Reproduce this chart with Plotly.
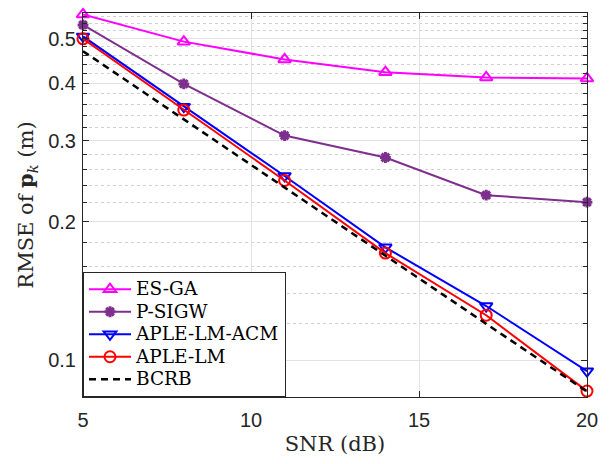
import plotly.graph_objects as go
import numpy as np

snr = [5, 8, 11, 14, 17, 20]
es_ga = [0.565, 0.493, 0.451, 0.423, 0.412, 0.410]
p_sigw = [0.536, 0.399, 0.308, 0.276, 0.2285, 0.2207]
aple_acm = [0.506, 0.356, 0.2516, 0.176, 0.1312, 0.0947]
aple_lm = [0.500, 0.350, 0.246, 0.171, 0.1253, 0.0857]
bcrb = [0.470, 0.334, 0.237, 0.169, 0.120, 0.0855]

names = ["ES-GA", "P-SIGW", "APLE-LM-ACM", "APLE-LM", "BCRB"]
y_ticks = [0.1, 0.2, 0.3, 0.4, 0.5]
x_ticks = [5, 10, 15, 20]
y_minor = [round(v, 2) for v in np.arange(0.12, 0.57, 0.02) if round(v, 2) not in (0.2, 0.3, 0.4, 0.5)]

serif = "DejaVu Serif"
sans = "Liberation Sans"


def lg(t):
    return '<span style="font-size:18.5px">' + t + '</span>'


fig = go.Figure()
fig.add_trace(go.Scatter(x=snr, y=es_ga, name=lg(names[0]), mode="lines+markers", cliponaxis=False,
                         line=dict(color="#FF00FF", width=2),
                         marker=dict(symbol="triangle-up-open", size=11, color="#FF00FF", line=dict(width=2))))
fig.add_trace(go.Scatter(x=snr, y=p_sigw, name=lg(names[1]), mode="lines+markers", cliponaxis=False,
                         line=dict(color="#7E2F8E", width=2),
                         marker=dict(symbol="asterisk-open", size=9, color="#7E2F8E", line=dict(width=3, color="#7E2F8E"))))
fig.add_trace(go.Scatter(x=snr, y=aple_acm, name=lg(names[2]), mode="lines+markers", cliponaxis=False,
                         line=dict(color="#0000FF", width=2),
                         marker=dict(symbol="triangle-down-open", size=11, color="#0000FF", line=dict(width=2))))
fig.add_trace(go.Scatter(x=snr, y=aple_lm, name=lg(names[3]), mode="lines+markers", cliponaxis=False,
                         line=dict(color="#FF0000", width=2),
                         marker=dict(symbol="circle-open", size=11, color="#FF0000", line=dict(width=2))))
fig.add_trace(go.Scatter(x=snr, y=bcrb, name=lg(names[4]), mode="lines",
                         line=dict(color="#000000", width=2.5, dash="7px,5px")))

fig.update_layout(
    width=610, height=464,
    margin=dict(l=83, r=21, t=13, b=64),
    paper_bgcolor="white", plot_bgcolor="white",
    showlegend=True,
    legend=dict(x=0, y=0, xanchor="left", yanchor="bottom",
                bgcolor="white", bordercolor="#262626", borderwidth=1,
                font=dict(family=serif, size=15, color="black"),
                itemwidth=42, tracegroupgap=0),
)
fig.update_xaxes(
    range=[5, 20], tickvals=x_ticks, ticks="inside", ticklen=6, tickcolor="#262626",
    showline=True, linecolor="#262626", linewidth=1, mirror="ticks",
    showgrid=True, gridcolor="#E3E3E3", gridwidth=1, zeroline=False,
    tickfont=dict(family=sans, size=20, color="#262626"), ticklabelstandoff=5,
    title=dict(text="SNR (dB)", font=dict(family=serif, size=21, color="#262626"), standoff=6),
)
fig.update_yaxes(
    type="log", range=[np.log10(0.0832), np.log10(0.569)],
    tickvals=y_ticks, ticktext=[str(v) for v in y_ticks],
    ticks="inside", ticklen=6, tickcolor="#262626",
    showline=True, linecolor="#262626", linewidth=1, mirror="ticks",
    showgrid=True, gridcolor="#E3E3E3", gridwidth=1, zeroline=False,
    tickfont=dict(family=sans, size=20, color="#262626"), ticklabelstandoff=2,
    minor=dict(tickvals=y_minor, ticks="inside", ticklen=4, tickcolor="#262626",
               showgrid=True, gridcolor="#D0D0D0", griddash="dot", gridwidth=1),
    title=dict(text="RMSE of <b>p</b><sub><i>k</i></sub> (m)",
               font=dict(family=serif, size=21, color="#262626"), standoff=8),
)

fig.write_html("out.html")
